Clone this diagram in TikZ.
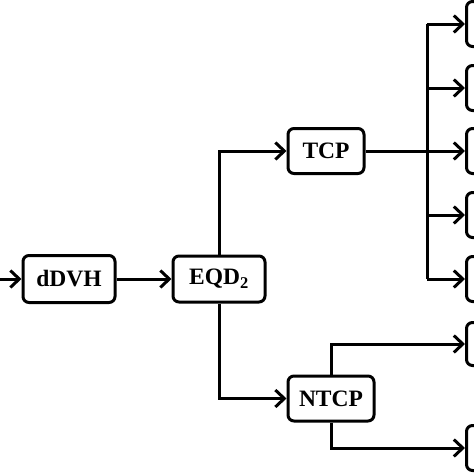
\documentclass[tikz,border=0pt]{standalone}
\usepackage{fontspec}
\setmainfont{Liberation Serif}
\usetikzlibrary{arrows.meta}
\begin{document}
\begin{tikzpicture}[x=1pt,y=-1pt,
  box/.style={draw,line width=3pt,rounded corners=6pt,inner sep=0pt,font=\fontsize{23.5}{26}\selectfont\bfseries},
  conn/.style={line width=3pt,-{Straight Barb[length=9pt,width=17pt,line width=3pt]}},
  plain/.style={line width=3pt}]
\clip (0,0) rectangle (474,474);
\node[box,minimum width=92pt,minimum height=47pt] (dvh) at (69,279) {dDVH};
\node[box,minimum width=92pt,minimum height=46pt] (eqd) at (219,279) {EQD\textsubscript{2}};
\node[box,minimum width=76pt,minimum height=45pt] (tcp) at (326,151) {TCP};
\node[box,minimum width=86pt,minimum height=45pt] (ntcp) at (331,398.5) {NTCP};
\node[box,minimum width=80pt,minimum height=45pt,anchor=west] (r1) at (465,24) {};
\node[box,minimum width=80pt,minimum height=45pt,anchor=west] (r2) at (465,88) {};
\node[box,minimum width=80pt,minimum height=45pt,anchor=west] (r3) at (465,151) {};
\node[box,minimum width=80pt,minimum height=45pt,anchor=west] (r4) at (465,215) {};
\node[box,minimum width=80pt,minimum height=45pt,anchor=west] (r5) at (465,279) {};
\node[box,minimum width=80pt,minimum height=43pt,anchor=west] (r6) at (465,344) {};
\node[box,minimum width=80pt,minimum height=45pt,anchor=west] (r7) at (465,448) {};
\coordinate (in) at (-5,279);
\coordinate (sp) at (427,151);
\draw[conn] (in) -- (dvh.west);
\draw[conn] (dvh.east) -- (eqd.west);
\draw[conn] (eqd.north) |- (tcp.west);
\draw[conn] (eqd.south) |- (ntcp.west);
\draw[conn] (tcp.east) -- (r3.west);
\draw[plain] (sp |- r1.west) -- (sp |- r5.west);
\draw[conn] (sp |- r1.west) -- (r1.west);
\draw[conn] (sp |- r2.west) -- (r2.west);
\draw[conn] (sp |- r4.west) -- (r4.west);
\draw[conn] (sp |- r5.west) -- (r5.west);
\draw[conn] (ntcp.north) |- (r6.west);
\draw[conn] (ntcp.south) |- (r7.west);
\end{tikzpicture}
\end{document}
